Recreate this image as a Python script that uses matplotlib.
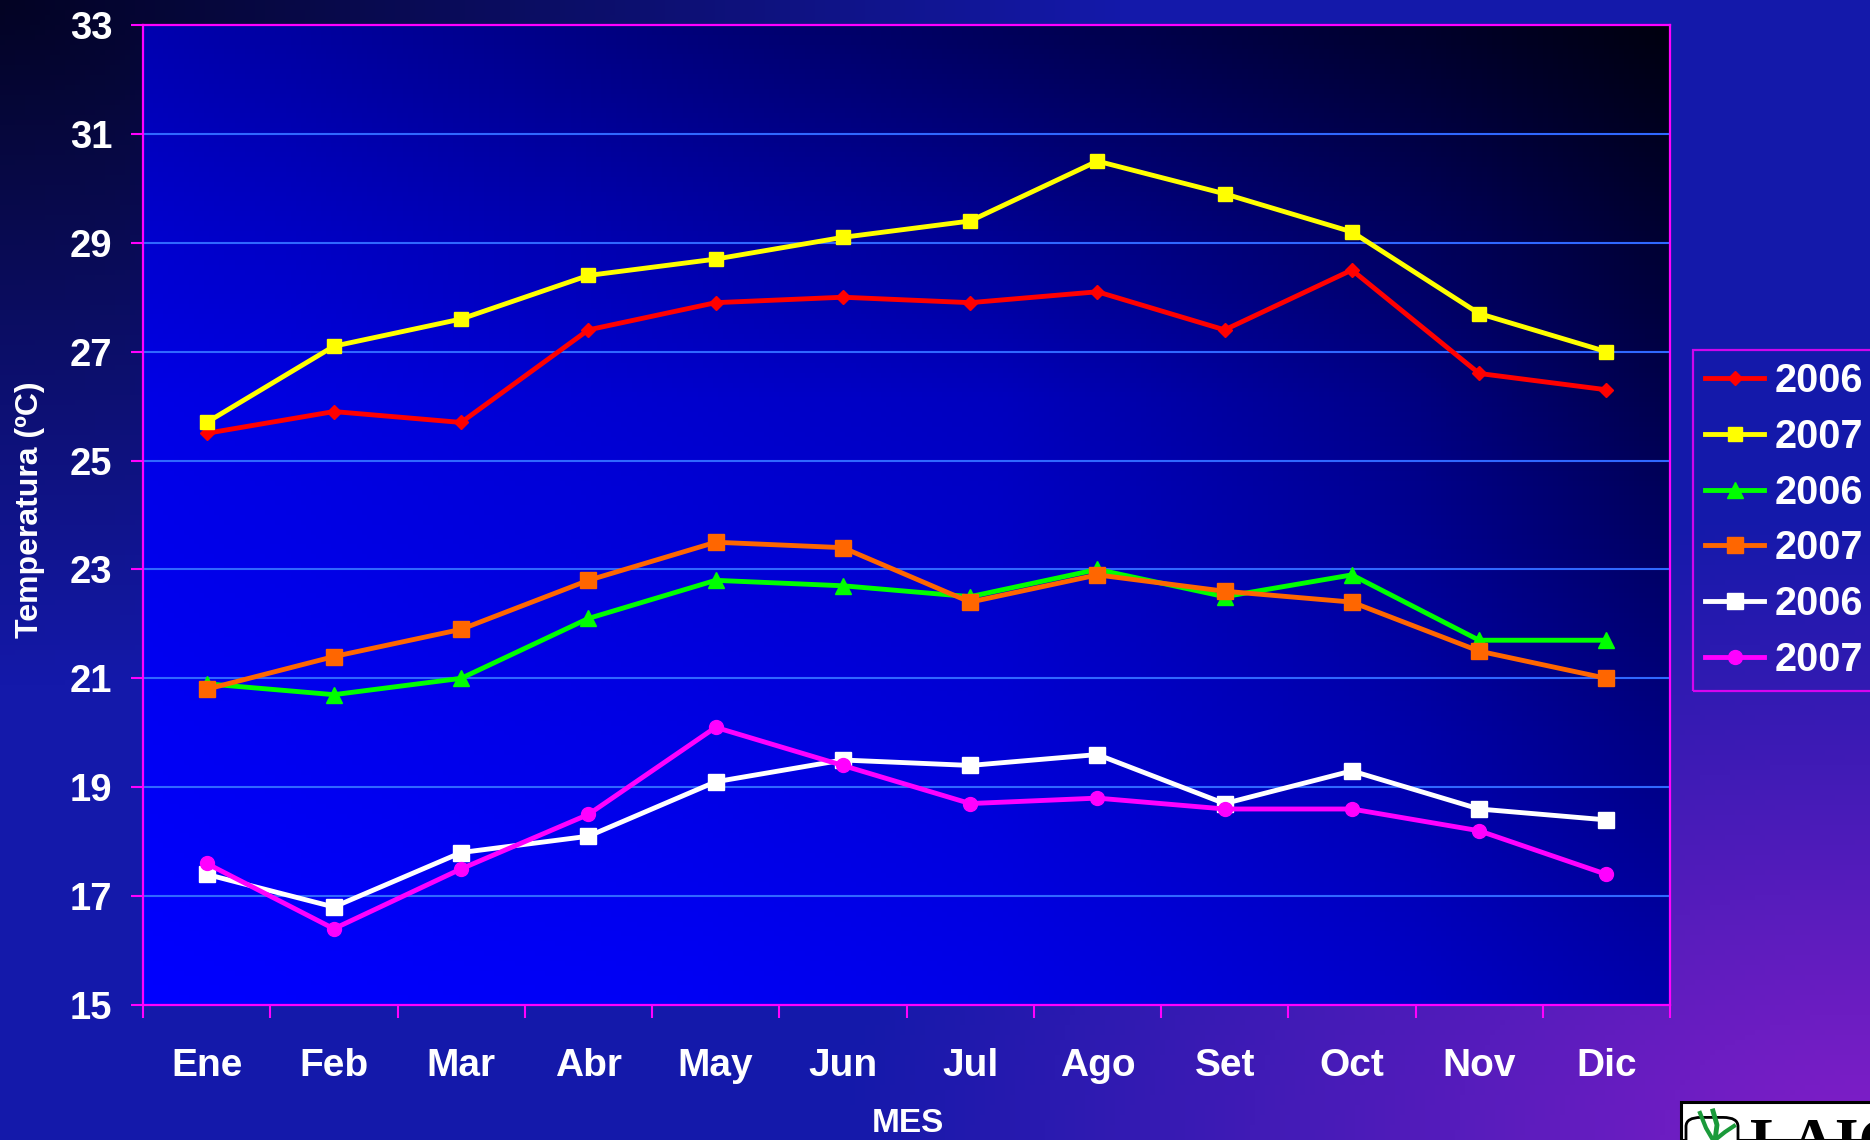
import numpy as np
import matplotlib
matplotlib.use("Agg")
import matplotlib.pyplot as plt
from matplotlib.patches import Rectangle, FancyBboxPatch
from matplotlib.lines import Line2D

# ---------------- data ----------------
months = ["Ene", "Feb", "Mar", "Abr", "May", "Jun",
          "Jul", "Ago", "Set", "Oct", "Nov", "Dic"]
red_2006 = [25.5, 25.9, 25.7, 27.4, 27.9, 28.0, 27.9, 28.1, 27.4, 28.5, 26.6, 26.3]
yellow_2007 = [25.7, 27.1, 27.6, 28.4, 28.7, 29.1, 29.4, 30.5, 29.9, 29.2, 27.7, 27.0]
green_2006 = [20.9, 20.7, 21.0, 22.1, 22.8, 22.7, 22.5, 23.0, 22.5, 22.9, 21.7, 21.7]
orange_2007 = [20.8, 21.4, 21.9, 22.8, 23.5, 23.4, 22.4, 22.9, 22.6, 22.4, 21.5, 21.0]
white_2006 = [17.4, 16.8, 17.8, 18.1, 19.1, 19.5, 19.4, 19.6, 18.7, 19.3, 18.6, 18.4]
magenta_2007 = [17.6, 16.4, 17.5, 18.5, 20.1, 19.4, 18.7, 18.8, 18.6, 18.6, 18.2, 17.4]
series_labels = ["2006", "2007", "2006", "2007", "2006", "2007"]
yticks = [15, 17, 19, 21, 23, 25, 27, 29, 31, 33]
y_label = "Temperatura (ºC)"
x_label = "MES"

# ---------------- figure ----------------
W, H = 1870, 1140
plt.rcParams["font.family"] = ["Liberation Sans", "DejaVu Sans"]
plt.rcParams["font.weight"] = "bold"
fig = plt.figure(figsize=(W / 100, H / 100), dpi=100)

# figure background gradient
ny, nx = 228, 374
yy, xx = np.mgrid[0:1:ny * 1j, 0:1:nx * 1j]  # yy: 0 top -> 1 bottom
base = np.array([20, 25, 170]) / 255.0
dark = np.array([3, 3, 35]) / 255.0
purple = np.array([130, 30, 200]) / 255.0
d_tl = np.sqrt(xx ** 2 + yy ** 2)
d_br = np.sqrt((1 - xx) ** 2 + (1 - yy) ** 2)
w_dark = np.clip(1 - d_tl / 0.6, 0, 1)[..., None]
w_pur = np.clip(1 - d_br / 0.55, 0, 1)[..., None]
img = base * np.ones((ny, nx, 1))
img = img * (1 - w_dark) + dark * w_dark
img = img * (1 - w_pur) + purple * w_pur
bg = fig.add_axes([0, 0, 1, 1], zorder=-10)
bg.imshow(img, extent=[0, 1, 0, 1], aspect="auto", origin="upper")
bg.set_xlim(0, 1)
bg.set_ylim(0, 1)
bg.axis("off")

# main axes
ax = fig.add_axes([143 / W, 1 - 1005 / H, (1670 - 143) / W, (1005 - 25) / H])
ax.set_facecolor("none")

# axes background gradient (bright bottom-left -> dark top-right)
gx = [0.0, 0.36, 0.56, 0.8, 1.0]
gy = [0.0, 0.38, 1.0]  # from top
gv = np.array([[175, 120, 90, 50, 15],
               [230, 205, 190, 140, 75],
               [255, 245, 232, 205, 170]], dtype=float)
ry = np.linspace(0, 1, 200)
rx = np.linspace(0, 1, 300)
rows = np.array([np.interp(rx, gx, r) for r in gv])  # 3 x 300
blue = np.array([np.interp(ry, gy, rows[:, j]) for j in range(len(rx))]).T
aimg = np.zeros((200, 300, 3))
aimg[..., 2] = blue / 255.0
ax.imshow(aimg, extent=[-0.5, 11.5, 15, 33], aspect="auto", origin="upper", zorder=0)

x = np.arange(len(months))
specs = [
    (red_2006, "#ff0000", "D", 7),
    (yellow_2007, "#ffff00", "s", 10),
    (green_2006, "#00ff00", "^", 11),
    (orange_2007, "#ff6600", "s", 12),
    (white_2006, "#ffffff", "s", 12),
    (magenta_2007, "#ff00ff", "o", 10),
]
for (vals, col, mk, ms), lab in zip(specs, series_labels):
    ax.plot(x, vals, color=col, lw=3.5, marker=mk, ms=ms, mfc=col, mec=col,
            label=lab, zorder=3, clip_on=False, solid_joinstyle="round")

ax.set_xlim(-0.5, 11.5)
ax.set_ylim(15, 33)
ax.set_yticks(yticks)
ax.set_yticklabels([str(t) for t in yticks])
ax.set_xticks(x)
ax.set_xticklabels(months)
ax.set_xticks(np.arange(-0.5, 12, 1), minor=True)

for t in yticks[1:-1]:
    ax.axhline(t, color="#3068ff", lw=1.5, zorder=1)

for sp in ax.spines.values():
    sp.set_color("#ff00ff")
    sp.set_linewidth(1.6)
    sp.set_zorder(4)

ax.tick_params(axis="y", which="major", direction="out", length=9, width=1.5,
               color="#ff00ff", labelcolor="white", labelsize=27.5, pad=13)
ax.tick_params(axis="x", which="major", length=0, labelcolor="white",
               labelsize=28, pad=31)
ax.tick_params(axis="x", which="minor", direction="out", length=9, width=1.5,
               color="#ff00ff")
for lbl in ax.get_xticklabels() + ax.get_yticklabels():
    lbl.set_fontweight("bold")

fig.text(30 / W, 1 - 510 / H, y_label, rotation=90, color="white",
         fontsize=23, fontweight="bold", ha="center", va="center")
fig.text(908 / W, 1 - 1123 / H, x_label, color="white",
         fontsize=24, fontweight="bold", ha="center", va="center")

leg = ax.legend(loc="upper left", bbox_to_anchor=(1693 / W, 1 - 350 / H),
                bbox_transform=fig.transFigure, borderaxespad=0,
                frameon=True, fancybox=False, fontsize=28.5,
                handlelength=1.5, handletextpad=0.25, borderpad=0.3,
                labelspacing=0.45, numpoints=1)
leg.get_frame().set_facecolor("none")
leg.get_frame().set_edgecolor("#ff00ff")
leg.get_frame().set_linewidth(1.6)
for t in leg.get_texts():
    t.set_color("white")
    t.set_fontweight("bold")

# logo box (bottom right, partially cut off as in the original)
fig.patches.append(Rectangle((1681 / W, 0), (W - 1681) / W + 0.01, (H - 1102) / H,
                             transform=fig.transFigure, facecolor="white",
                             edgecolor="black", lw=2.2, zorder=5))
fig.patches.append(FancyBboxPatch((1686 / W, -0.01), 52 / W, (H - 1106) / H,
                                  boxstyle="round,pad=0,rounding_size=0.008",
                                  transform=fig.transFigure, facecolor="white",
                                  edgecolor="black", lw=2.0, zorder=6))
leaf_a = Line2D([1700 / W, 1706 / W, 1713 / W], [1 - 1113 / H, 1 - 1128 / H, 1 - 1140 / H],
                transform=fig.transFigure, color="#1a9a3a", lw=3, zorder=7)
leaf_b = Line2D([1713 / W, 1717 / W, 1715 / W], [1 - 1111 / H, 1 - 1125 / H, 1 - 1140 / H],
                transform=fig.transFigure, color="#1a9a3a", lw=3.5, zorder=7)
leaf_c = Line2D([1715 / W, 1725 / W, 1734 / W], [1 - 1140 / H, 1 - 1132 / H, 1 - 1126 / H],
                transform=fig.transFigure, color="#1a9a3a", lw=3, zorder=7)
fig.lines.extend([leaf_a, leaf_b, leaf_c])
fig.text(1750 / W, 1 - 1117 / H, "LAIC", color="black", fontsize=44,
         family="Liberation Serif", fontweight="bold", ha="left", va="top",
         zorder=7)

fig.savefig("out.png", dpi=100)
